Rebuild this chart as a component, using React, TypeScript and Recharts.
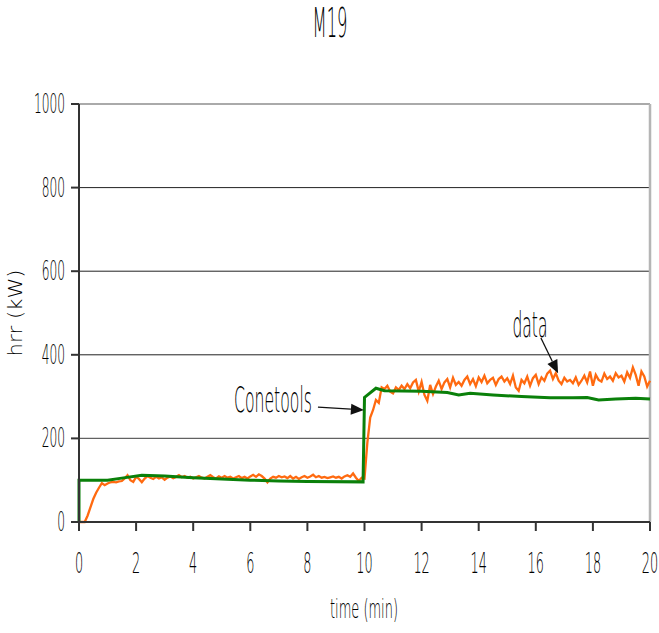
import React from "react";
import {
  LineChart,
  Line,
  XAxis,
  YAxis,
  CartesianGrid,
  ReferenceLine,
  Customized,
} from "recharts";

// measured series, one value every 0.1 min from t = 0
const DATA_STEP = 0.1;
const dataValues = [
  0, 0, 0, 15, 35, 55, 70, 82, 93, 88,
  92, 95, 96, 95, 97, 98, 104, 112, 100, 96,
  108, 103, 95, 104, 110, 106, 103, 108, 104, 107,
  101, 106, 109, 105, 108, 112, 107, 110, 106, 108,
  104, 107, 110, 106, 104, 108, 112, 107, 104, 109,
  106, 110, 106, 108, 104, 107, 110, 105, 108, 104,
  109, 113, 108, 114, 110, 104, 95, 104, 108, 106,
  110, 107, 109, 105, 110, 104, 108, 103, 107, 110,
  106, 109, 113, 107, 110, 106, 108, 105, 107, 109,
  106, 108, 104, 109, 112, 108, 116, 106, 98, 106,
  104, 190, 250, 268, 292, 285, 322, 318, 326, 312,
  308, 322, 316, 326, 318, 330, 320, 334, 340, 312,
  335, 304, 290, 328, 306, 324, 338, 318, 334, 342,
  322, 345, 328, 335, 326, 340, 348, 330, 342, 325,
  346, 335, 350, 332, 340, 345, 328, 342, 348, 336,
  344, 330, 350, 322, 314, 340, 332, 348, 326, 344,
  352, 330, 346, 338, 355, 362, 342, 356, 338, 330,
  345, 336, 340, 332, 346, 328, 338, 350, 334, 360,
  326, 352, 340, 336, 355, 342, 348, 338, 356, 346,
  350, 336, 358, 345, 370, 352, 326, 360, 348, 324,
  338,
];

// Conetools prediction: [time (min), hrr (kW)]
const conetoolsPoints = [
  [0, 0], [0, 100], [1, 100], [1.5, 105], [2.2, 112], [3, 110], [4, 106],
  [5, 103], [6, 100], [7, 98], [8, 97], [9.95, 96], [10, 298], [10.4, 320],
  [10.7, 314], [12, 313], [12.9, 310], [13.3, 304], [13.7, 308], [14.5, 304],
  [15.5, 300], [16.5, 297], [17.3, 297], [17.8, 298], [18.2, 292], [18.8, 294],
  [19.5, 296], [20, 294],
];

const xTicks = [0, 2, 4, 6, 8, 10, 12, 14, 16, 18, 20];
const yTicks = [0, 200, 400, 600, 800, 1000];

const measured = dataValues.map((v, i) => ({ t: +(i * DATA_STEP).toFixed(1), hrr: v }));
const conetools = conetoolsPoints.map(([t, v]) => ({ t, hrr: v }));

const FONT = "'DejaVu Sans', sans-serif";
const WEIGHT = 200;
const INK = "#000";

const XTick = (props: any) => {
  const { x, y, payload } = props;
  return (
    <text
      transform={`translate(${x},${y + 42}) scale(0.46,1)`}
      textAnchor="middle"
      fontFamily={FONT}
      fontWeight={WEIGHT}
      fontSize={28}
      fill={INK}
    >
      {payload.value}
    </text>
  );
};

const YTick = (props: any) => {
  const { x, y, payload } = props;
  return (
    <text
      transform={`translate(${x},${y + 9}) scale(0.47,1)`}
      textAnchor="end"
      fontFamily={FONT}
      fontWeight={WEIGHT}
      fontSize={26}
      fill={INK}
    >
      {payload.value}
    </text>
  );
};

// arrow with its caption
const arrowShape = (caption: string, dx: number, dy: number, anchor: string, len: number) => (p: any) => {
  const { x1, y1, x2, y2 } = p;
  const ang = Math.atan2(y2 - y1, x2 - x1);
  const hl = 13;
  const hw = 5.5;
  const bx = x2 - hl * Math.cos(ang);
  const by = y2 - hl * Math.sin(ang);
  const nx = -Math.sin(ang);
  const ny = Math.cos(ang);
  return (
    <g>
      <line x1={x1} y1={y1} x2={bx} y2={by} stroke="#111" strokeWidth={1.3} />
      <polygon
        points={`${x2},${y2} ${bx + nx * hw},${by + ny * hw} ${bx - nx * hw},${by - ny * hw}`}
        fill="#111"
      />
      <text
        x={x1 + dx}
        y={y1 + dy}
        textAnchor={anchor}
        fontFamily={FONT}
        fontWeight={WEIGHT}
        fontSize={36}
        fill={INK}
        textLength={len}
        lengthAdjust="spacingAndGlyphs"
      >
        {caption}
      </text>
    </g>
  );
};

const Titles = () => (
  <g fontFamily={FONT} fontWeight={WEIGHT} fill={INK}>
    <text x={330} y={37} textAnchor="middle" fontSize={40} textLength={35} lengthAdjust="spacingAndGlyphs">
      M19
    </text>
    <text x={364} y={618} textAnchor="middle" fontSize={27} textLength={68} lengthAdjust="spacingAndGlyphs">
      time (min)
    </text>
    <text
      transform="translate(22,313) rotate(-90)"
      textAnchor="middle"
      fontSize={19}
      textLength={87}
      lengthAdjust="spacingAndGlyphs"
    >
      hrr (kW)
    </text>
  </g>
);

export default function App() {
  return (
    <div style={{ position: "absolute", left: 0, top: 0, background: "#fff" }}>
      <LineChart
        width={659}
        height={633}
        margin={{ top: 104, right: 9, bottom: 51, left: 0 }}
      >
        <CartesianGrid vertical={false} stroke="#222" strokeWidth={1} />
        <XAxis
          type="number"
          dataKey="t"
          domain={[0, 20]}
          ticks={xTicks}
          allowDuplicatedCategory={false}
          height={60}
          tickSize={9}
          tickMargin={0}
          tick={<XTick />}
          stroke="#333"
          strokeWidth={2}
        />
        <YAxis
          type="number"
          domain={[0, 1000]}
          ticks={yTicks}
          width={79}
          tickSize={8}
          tickMargin={6}
          tick={<YTick />}
          stroke="#333"
          strokeWidth={2}
        />
        <ReferenceLine y={1000} stroke="#aaa" strokeWidth={2} />
        <ReferenceLine y={200} stroke="#666" strokeWidth={1} />
        <ReferenceLine x={20} stroke="#b5b5b5" strokeWidth={2.5} />
        <Line
          data={measured}
          dataKey="hrr"
          type="linear"
          stroke="#ff6a10"
          strokeWidth={2.3}
          dot={false}
          isAnimationActive={false}
        />
        <Line
          data={conetools}
          dataKey="hrr"
          type="linear"
          stroke="#0a800a"
          strokeWidth={3}
          dot={false}
          isAnimationActive={false}
        />
        <ReferenceLine
          segment={[{ x: 8.37, y: 275 }, { x: 9.98, y: 268 }]}
          shape={arrowShape("Conetools", -6, 5, "end", 78)}
        />
        <ReferenceLine
          segment={[{ x: 16.18, y: 440 }, { x: 16.78, y: 356 }]}
          shape={arrowShape("data", -11, -1, "middle", 35)}
        />
        <Customized component={Titles} />
      </LineChart>
    </div>
  );
}
